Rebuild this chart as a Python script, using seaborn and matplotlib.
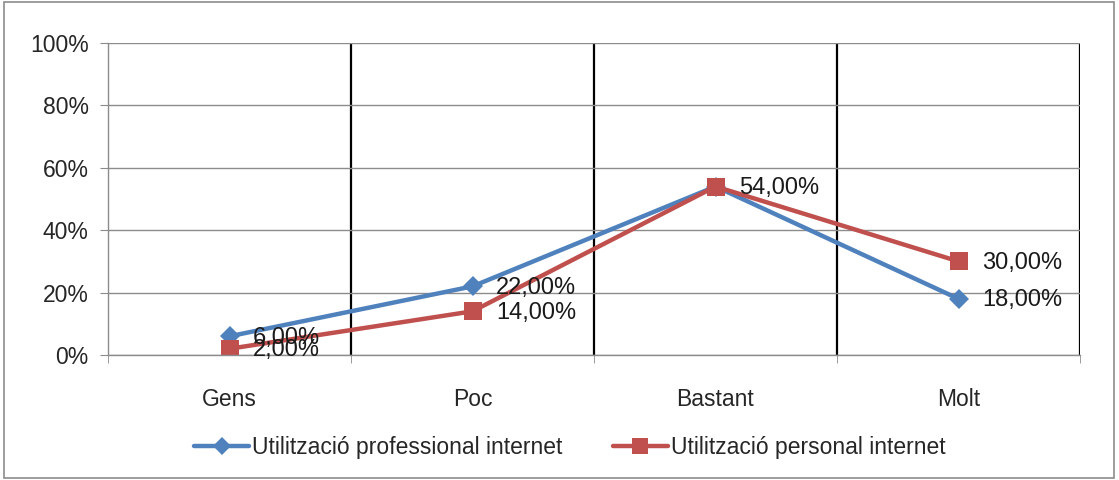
import numpy as np
import matplotlib
matplotlib.use("Agg")
import matplotlib.pyplot as plt
import matplotlib.ticker as mticker
from matplotlib.patches import Rectangle
import seaborn as sns
import pandas as pd

categories = ["Gens", "Poc", "Bastant", "Molt"]
professional = [0.06, 0.22, 0.54, 0.18]
personal = [0.02, 0.14, 0.54, 0.30]
series_names = ["Utilització professional internet", "Utilització personal internet"]

sns.set_style("white")
plt.rcParams['font.family'] = ['Liberation Sans', 'DejaVu Sans']

df = pd.DataFrame({
    "cat": categories * 2,
    "val": professional + personal,
    "serie": [series_names[0]] * 4 + [series_names[1]] * 4,
})

fig = plt.figure(figsize=(11.19, 4.8), dpi=100)
ax = fig.add_axes([108 / 1119, 125 / 480, 972 / 1119, 312 / 480])

colors = {series_names[0]: "#4F81BD", series_names[1]: "#C0504D"}
markers = {series_names[0]: "D", series_names[1]: "s"}
sizes = {series_names[0]: 10.5, series_names[1]: 13}

for name in series_names:
    sub = df[df.serie == name]
    sns.lineplot(data=sub, x="cat", y="val", ax=ax, color=colors[name], marker=markers[name],
                 markersize=sizes[name], markeredgewidth=0, linewidth=3.2, label=name, sort=False)

for i, v in enumerate(professional):
    ax.annotate(f"{v * 100:.2f}%".replace(".", ","), (i, v), xytext=(17, -1), textcoords="offset points",
                va="center", ha="left", fontsize=17, color="#1a1a1a")
for i, v in enumerate(personal):
    if i == 2:
        continue
    ax.annotate(f"{v * 100:.2f}%".replace(".", ","), (i, v), xytext=(17, -1), textcoords="offset points",
                va="center", ha="left", fontsize=17, color="#1a1a1a")

ax.set_xlim(-0.5, 3.5)
ax.set_ylim(0, 1)
ax.set_yticks(np.arange(0, 1.01, 0.2))
ax.yaxis.set_major_formatter(mticker.FuncFormatter(lambda y, _: f"{y * 100:.0f}%"))
ax.set_xticks(range(4))
ax.set_xticklabels(categories)
ax.set_xticks(np.arange(-0.5, 3.6, 1), minor=True)
ax.set_xlabel("")
ax.set_ylabel("")

ax.grid(axis="y", color="#8c8c8c", linewidth=1)
for xb in [0.5, 1.5, 2.5, 3.5]:
    ax.axvline(xb, color="black", linewidth=1.6, zorder=0.5)

for s in ["top", "right"]:
    ax.spines[s].set_visible(False)
for s in ["left", "bottom"]:
    ax.spines[s].set_color("#8c8c8c")
    ax.spines[s].set_linewidth(1)

ax.tick_params(axis="y", which="major", length=6, color="#8c8c8c", labelsize=16.5, pad=8, left=True)
ax.tick_params(axis="x", which="major", length=0, labelsize=16.5, pad=24)
ax.tick_params(axis="x", which="minor", length=6, color="#8c8c8c", bottom=True)

ax.legend(loc="upper center", bbox_to_anchor=(0.475, -0.195), ncol=2, frameon=False,
          prop={"size": 16.5}, markerscale=0.85,
          handlelength=2.4, columnspacing=2.2, handletextpad=0.12)

fig.patches.append(Rectangle((4 / 1119, 2 / 480), 1110 / 1119, 476 / 480, transform=fig.transFigure,
                             fill=False, edgecolor="#8c8c8c", linewidth=1.2))

plt.savefig("out.png", dpi=100)
